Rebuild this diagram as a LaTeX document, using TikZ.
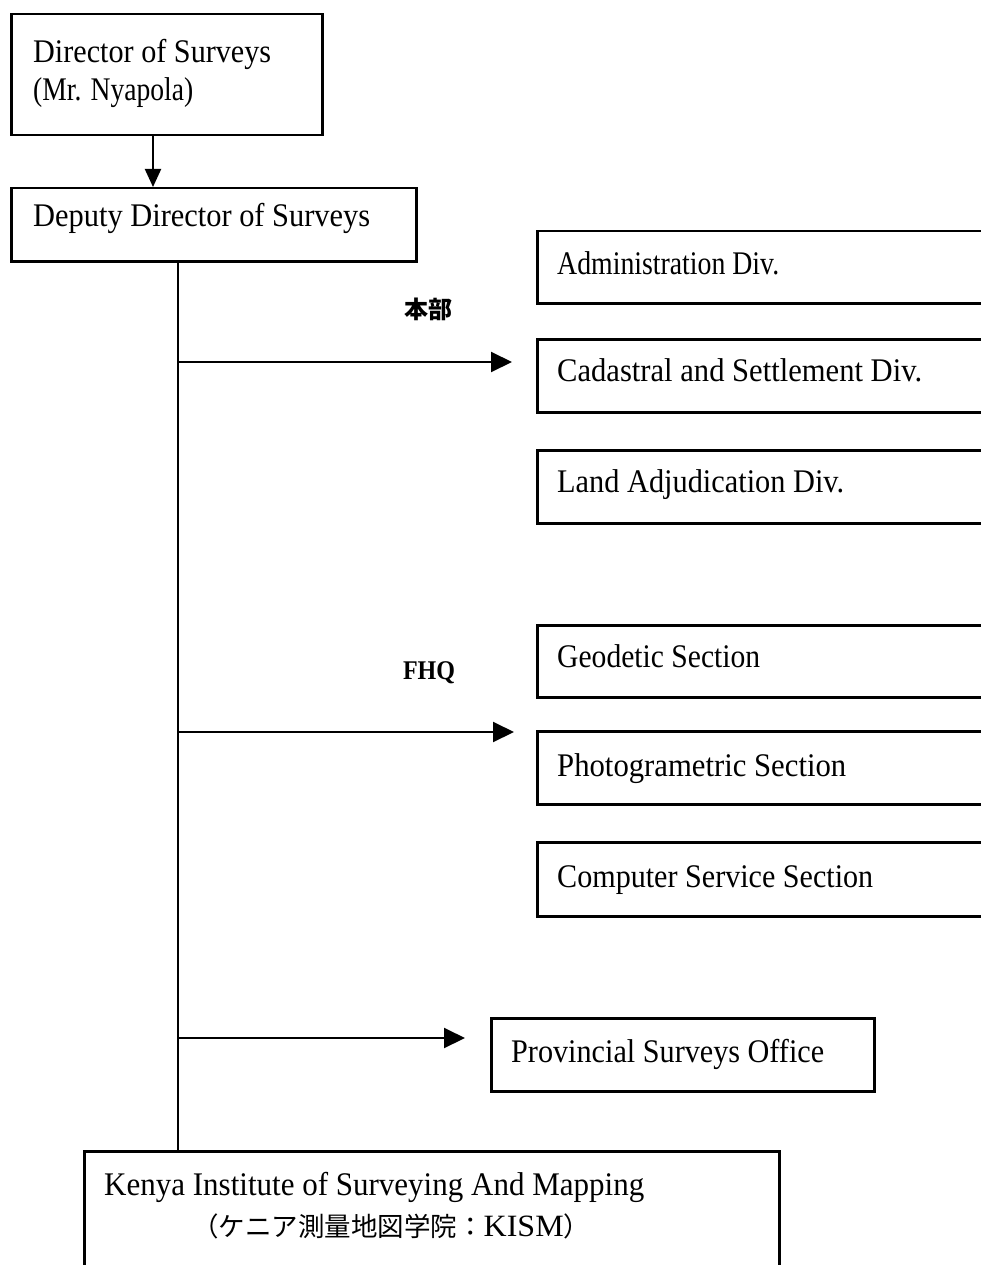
\documentclass[tikz,border=0pt]{standalone}
\usepackage{fontspec}
\setmainfont{Liberation Serif}
\newfontfamily\cjk{Noto Sans CJK JP}
\usetikzlibrary{arrows.meta}
\newcommand{\fitw}[2]{\resizebox{#1}{\height}{#2}}
\begin{document}
\begin{tikzpicture}[x=1pt,y=-1pt,
  box/.style={draw, line width=2.5pt, inner sep=0pt, anchor=north west},
  txt/.style={inner sep=0pt, anchor=base west, font=\fontsize{33}{40}\selectfont},
  conn/.style={line width=2pt},
  arr/.style={conn, -{Triangle[length=21pt,width=20pt]}},
  lbl/.style={inner sep=0pt}
]
\useasboundingbox (0,0) rectangle (981,1265);
\clip (0,0) rectangle (981,1265);

% boxes
\node[box, minimum width=311pt, minimum height=121pt] (dir) at (10,13) {};
\node[box, minimum width=405pt, minimum height=73pt] (dep) at (10,187) {};
\node[box, minimum width=470pt, minimum height=72pt] (adm) at (536,230) {};
\node[box, minimum width=470pt, minimum height=73pt] (cad) at (536,338) {};
\node[box, minimum width=470pt, minimum height=73pt] (land) at (536,449) {};
\node[box, minimum width=470pt, minimum height=72pt] (geo) at (536,624) {};
\node[box, minimum width=470pt, minimum height=73pt] (pho) at (536,730) {};
\node[box, minimum width=470pt, minimum height=74pt] (comp) at (536,841) {};
\node[box, minimum width=383pt, minimum height=73pt] (prov) at (490,1017) {};
\node[box, minimum width=695pt, minimum height=160pt] (kism) at (83,1150) {};

% texts
\node[txt] (t1) at (33,63) {\fitw{238pt}{Director of Surveys}};
\node[txt] (t2) at (33,101) {\fitw{160pt}{(Mr. Nyapola)}};
\node[txt] (t3) at (33,227) {\fitw{337pt}{Deputy Director of Surveys}};
\node[txt] (t4) at (557,274) {\fitw{222pt}{Administration Div.}};
\node[txt] (t5) at (557,381) {\fitw{365pt}{Cadastral and Settlement Div.}};
\node[txt] (t6) at (557,492) {\fitw{287pt}{Land Adjudication Div.}};
\node[txt] (t7) at (557,667) {\fitw{203pt}{Geodetic Section}};
\node[txt] (t8) at (557,776) {\fitw{289pt}{Photogrametric Section}};
\node[txt] (t9) at (557,887) {\fitw{316pt}{Computer Service Section}};
\node[txt] (t10) at (511,1062) {\fitw{313pt}{Provincial Surveys Office}};
\node[txt] (t11) at (104,1195) {\fitw{540pt}{Kenya Institute of Surveying And Mapping}};
\node[txt] (t12) at (192,1236) {{\cjk\fontsize{26.5}{30}\selectfont （ケニア測量地図学院：}\fitw{80pt}{\fontsize{31}{36}\selectfont KISM}{\cjk\fontsize{26.5}{30}\selectfont ）}};

% labels
\node[lbl, font=\cjk\bfseries\fontsize{24}{28}\selectfont] (hq) at (428,309) {本部};
\node[lbl, font=\bfseries\fontsize{27}{32}\selectfont] (fhq) at (429,673) {\fitw{52pt}{FHQ}};

% connectors
\coordinate (ax) at (153,0);
\coordinate (tx) at (178,0);
\coordinate (b1) at (178,362);
\coordinate (b2) at (178,732);
\coordinate (b3) at (178,1038);
\draw[conn, -{Triangle[length=18pt,width=16pt]}] (dir.south -| ax) -- (dep.north -| ax);
\draw[conn] (dep.south -| tx) -- (kism.north -| tx);
\draw[arr, shorten >=24pt] (b1) -- (b1 -| cad.west);
\draw[arr, shorten >=22pt] (b2) -- (b2 -| pho.west);
\draw[arr, shorten >=25pt] (b3) -- (b3 -| prov.west);
\end{tikzpicture}
\end{document}
